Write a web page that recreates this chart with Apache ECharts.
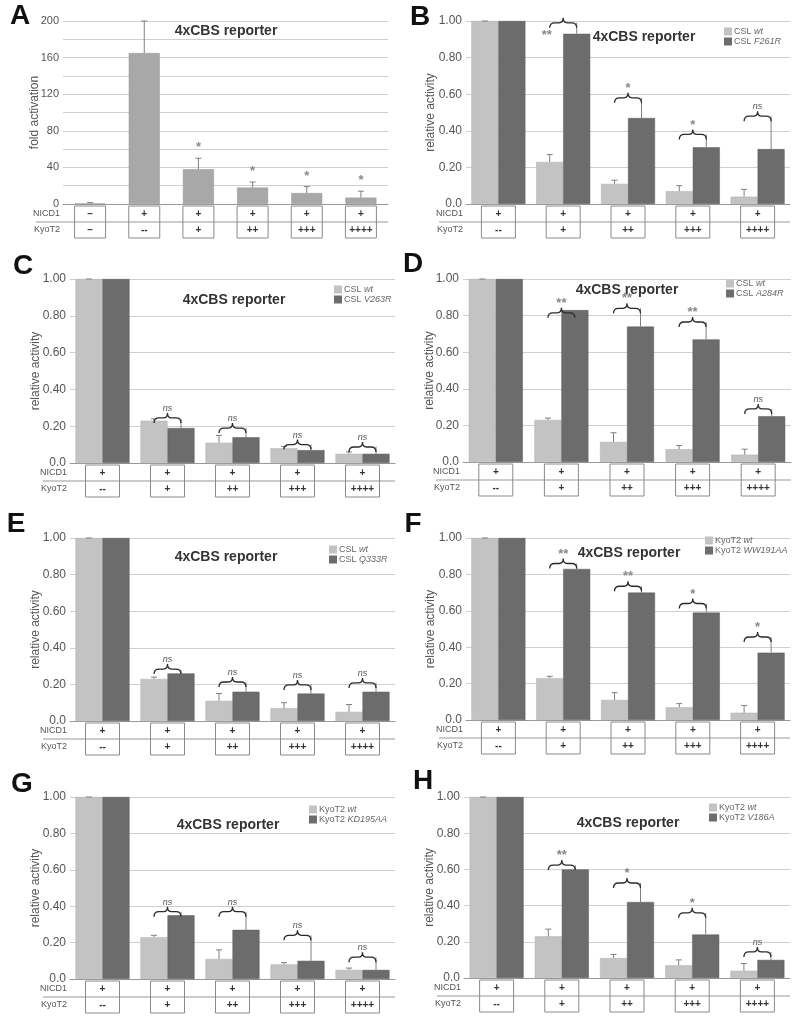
<!DOCTYPE html>
<html><head><meta charset="utf-8">
<script src="https://cdn.jsdelivr.net/npm/echarts@6/dist/echarts.min.js"></script>
<style>html,body{margin:0;padding:0;background:#fff}#c{width:800px;height:1021px}</style>
</head><body><div id="c"></div>
<script>
const FONT = "'Liberation Sans', Arial, sans-serif";

// ---- Panel A ----
const nicdA = ['–','+','+','+','+','+'];
const kyoA  = ['–','--','+','++','+++','++++'];
const valA  = [0.6,165,38,18,12,7];
const errA  = [1.5,200,50,24,19,14];
const sigA  = ['','','*','*','*','*'];

// ---- table labels for B–H ----
const nicd5 = ['+','+','+','+','+'];
const kyo5  = ['--','+','++','+++','++++'];

// ---- Panel B ----
const namesB = ['CSL wt','CSL F261R'];
const lightB = [1.00,0.23,0.11,0.07,0.04];
const lightErrB = [1.00,0.27,0.13,0.10,0.08];
const darkB = [1.00,0.93,0.47,0.31,0.30];
const darkErrB = [1.00,0.99,0.58,0.38,0.48];
const braceB = [null,0.99,0.58,0.38,0.48];
const sigB = ['','**','*','*','ns'];

// ---- Panel C ----
const namesC = ['CSL wt','CSL V263R'];
const lightC = [1.00,0.23,0.11,0.08,0.05];
const lightErrC = [1.00,0.24,0.15,0.09,0.06];
const darkC = [1.00,0.19,0.14,0.07,0.05];
const darkErrC = [1.00,0.24,0.19,0.10,0.09];
const braceC = [null,0.245,0.19,0.10,0.087];
const sigC = ['','ns','ns','ns','ns'];

// ---- Panel D ----
const namesD = ['CSL wt','CSL A284R'];
const lightD = [1.00,0.23,0.11,0.07,0.04];
const lightErrD = [1.00,0.24,0.16,0.09,0.07];
const darkD = [1.00,0.83,0.74,0.67,0.25];
const darkErrD = [1.00,0.83,0.84,0.765,0.29];
const braceD = [null,0.815,0.84,0.765,0.29];
const sigD = ['','**','**','**','ns'];

// ---- Panel E ----
const namesE = ['CSL wt','CSL Q333R'];
const lightE = [1.00,0.23,0.11,0.07,0.05];
const lightErrE = [1.00,0.24,0.15,0.10,0.09];
const darkE = [1.00,0.26,0.16,0.15,0.16];
const darkErrE = [1.00,0.28,0.21,0.20,0.21];
const braceE = [null,0.284,0.213,0.197,0.208];
const sigE = ['','ns','ns','ns','ns'];

// ---- Panel F ----
const namesF = ['KyoT2 wt','KyoT2 WW191AA'];
const lightF = [1.00,0.23,0.11,0.07,0.04];
const lightErrF = [1.00,0.24,0.15,0.09,0.08];
const darkF = [1.00,0.83,0.70,0.59,0.37];
const darkErrF = [1.00,0.86,0.735,0.64,0.456];
const braceF = [null,0.86,0.735,0.64,0.456];
const sigF = ['','**','**','*','*'];

// ---- Panel G ----
const namesG = ['KyoT2 wt','KyoT2 KD195AA'];
const lightG = [1.00,0.23,0.11,0.08,0.05];
const lightErrG = [1.00,0.24,0.16,0.09,0.06];
const darkG = [1.00,0.35,0.27,0.10,0.05];
const darkErrG = [1.00,0.37,0.37,0.24,0.12];
const braceG = [null,0.37,0.37,0.24,0.12];
const sigG = ['','ns','ns','ns','ns'];

// ---- Panel H ----
const namesH = ['KyoT2 wt','KyoT2 V186A'];
const lightH = [1.00,0.23,0.11,0.07,0.04];
const lightErrH = [1.00,0.27,0.13,0.10,0.08];
const darkH = [1.00,0.60,0.42,0.24,0.10];
const darkErrH = [1.00,0.624,0.525,0.36,0.144];
const braceH = [null,0.624,0.525,0.36,0.144];
const sigH = ['','**','*','*','ns'];

const letters = ['A','B','C','D','E','F','G','H'];

// ---------- layout (styles/positions) ----------
const LIGHT = '#c3c3c3', DARK = '#6c6c6c', MID = '#a8a8a8';
const BW = 27;
const grids = [
  {left:63, top:21, width:325, height:183},
  {left:466, top:21, width:324, height:183},
  {left:70, top:279, width:325, height:184},
  {left:463, top:279, width:328, height:183},
  {left:70, top:538, width:325, height:183},
  {left:466, top:538, width:324, height:182},
  {left:70, top:797, width:325, height:182},
  {left:464, top:797, width:326, height:181}
];
const nameGaps = [22, 29, 28, 27, 28, 29, 28, 28];
const letterPos = [[20,16],[420,17],[23,266],[413,264],[16,524],[413,524],[22,784],[423,781]];
const titlePos = [[226,31],[644,37],[234,300],[627,290],[226,557],[629,553],[228,825],[628,823]];
const legendPos = [null,[724,27],[334,285],[726,279],[329,545],[705,536],[309,805],[709,803]];

const panels = [
  null,
  {names:namesB, light:lightB, lightErr:lightErrB, dark:darkB, darkErr:darkErrB, brace:braceB, sig:sigB},
  {names:namesC, light:lightC, lightErr:lightErrC, dark:darkC, darkErr:darkErrC, brace:braceC, sig:sigC},
  {names:namesD, light:lightD, lightErr:lightErrD, dark:darkD, darkErr:darkErrD, brace:braceD, sig:sigD},
  {names:namesE, light:lightE, lightErr:lightErrE, dark:darkE, darkErr:darkErrE, brace:braceE, sig:sigE},
  {names:namesF, light:lightF, lightErr:lightErrF, dark:darkF, darkErr:darkErrF, brace:braceF, sig:sigF},
  {names:namesG, light:lightG, lightErr:lightErrG, dark:darkG, darkErr:darkErrG, brace:braceG, sig:sigG},
  {names:namesH, light:lightH, lightErr:lightErrH, dark:darkH, darkErr:darkErrH, brace:braceH, sig:sigH}
];

function errSeries(k, vals, errs, offset, withCap, sig) {
  return {
    type:'custom', xAxisIndex:k, yAxisIndex:k, z:5, silent:true,
    data: vals.map((v,i)=>[i, v, errs[i]]),
    encode:{x:0, y:[1,2]},
    renderItem:(params, api)=>{
      const i = api.value(0), v = api.value(1), e = api.value(2);
      const p0 = api.coord([i, v]), p1 = api.coord([i, e]);
      const x = p0[0] + offset;
      const ch = [];
      if (p1[1] < p0[1] - 0.5) {
        ch.push({type:'line', shape:{x1:x, y1:p0[1], x2:x, y2:p1[1]}, style:{stroke:'#808080', lineWidth:1}});
      }
      if (withCap) ch.push({type:'line', shape:{x1:x-3, y1:p1[1], x2:x+3, y2:p1[1]}, style:{stroke:'#808080', lineWidth:1}});
      if (sig && sig[params.dataIndex]) {
        ch.push({type:'text', style:{text:sig[params.dataIndex], x:x, y:p1[1]-4, align:'center', verticalAlign:'bottom', font:'bold 13px '+FONT, fill:'#888'}});
      }
      return {type:'group', children:ch};
    }
  };
}

function braceSeries(k, brace, sig, gridTop) {
  const data = [];
  brace.forEach((b,i)=>{ if (b != null) data.push([i, b]); });
  return {
    type:'custom', xAxisIndex:k, yAxisIndex:k, z:6, silent:true,
    data, encode:{x:0, y:1},
    renderItem:(params, api)=>{
      const i = api.value(0), b = api.value(1);
      const p = api.coord([i, b]);
      const y = p[1];
      const xL = p[0] - BW/2, xR = p[0] + BW/2, m = p[0];
      const d = `M${xL},${y+5} Q${xL},${y} ${xL+5},${y} L${m-4},${y} Q${m},${y} ${m},${y-5} Q${m},${y} ${m+4},${y} L${xR-5},${y} Q${xR},${y} ${xR},${y+5}`;
      const lab = sig[i];
      const ch = [{type:'path', shape:{pathData:d}, style:{stroke:'#2a2a2a', lineWidth:1.3, fill:null}}];
      const italic = lab === 'ns';
      const font = italic ? 'italic 9px '+FONT : 'bold 13px '+FONT;
      if (y - 14 < gridTop) {
        ch.push({type:'text', style:{text:lab, x:xL-3, y:y+13, align:'center', verticalAlign:'middle', font, fill:'#888'}});
      } else {
        ch.push({type:'text', style:{text:lab, x:m, y:y-(italic?5:3), align:'center', verticalAlign:'bottom', font, fill:italic?'#555':'#888'}});
      }
      return {type:'group', children:ch};
    }
  };
}

function tableSeries(k, nicd, kyo, boxW) {
  return {
    type:'custom', xAxisIndex:k, yAxisIndex:k, z:4, silent:true,
    data: nicd.map((s,i)=>[i, 0]), encode:{x:0, y:1},
    renderItem:(params, api)=>{
      const i = api.value(0);
      const p = api.coord([i, 0]);
      const top = p[1] + 2, cs = params.coordSys;
      const ch = [];
      if (params.dataIndex === 0) {
        ch.push({type:'line', shape:{x1:cs.x-27, y1:top+16, x2:cs.x+cs.width, y2:top+16}, style:{stroke:'#999', lineWidth:1}});
        ch.push({type:'text', style:{text:'NICD1', x:cs.x-3, y:top+8, align:'right', verticalAlign:'middle', font:'9px '+FONT, fill:'#555'}});
        ch.push({type:'text', style:{text:'KyoT2', x:cs.x-3, y:top+24, align:'right', verticalAlign:'middle', font:'9px '+FONT, fill:'#555'}});
      }
      ch.push({type:'rect', shape:{x:p[0]-boxW/2, y:top, width:boxW, height:32}, style:{stroke:'#8a8a8a', lineWidth:1, fill:null}});
      ch.push({type:'text', style:{text:nicd[i], x:p[0], y:top+8, align:'center', verticalAlign:'middle', font:'bold 10px '+FONT, fill:'#333'}});
      ch.push({type:'text', style:{text:kyo[i], x:p[0], y:top+24, align:'center', verticalAlign:'middle', font:'bold 10px '+FONT, fill:'#333'}});
      return {type:'group', children:ch};
    }
  };
}

const option = {
  animation:false,
  backgroundColor:'#fff',
  grid: grids.map(g=>({left:g.left, top:g.top, width:g.width, height:g.height, containLabel:false})),
  xAxis: grids.map((g,k)=>({
    type:'category', gridIndex:k,
    data: (k===0 ? nicdA : nicd5).map((s,i)=>String(i)),
    axisLine:{show:true, lineStyle:{color:'#999'}}, axisTick:{show:false}, axisLabel:{show:false}
  })),
  yAxis: grids.map((g,k)=>({
    type:'value', gridIndex:k, min:0, max:k===0?200:1, interval:k===0?20:0.2,
    name: k===0 ? 'fold activation' : 'relative activity',
    nameLocation:'middle', nameGap: nameGaps[k], nameRotate:90, nameMoveOverlap:false,
    nameTextStyle:{fontFamily:FONT, fontSize:12, color:'#555'},
    axisLine:{show:false}, axisTick:{show:false},
    splitLine:{lineStyle:{color:'#cfcfcf', width:1}},
    axisLabel:{fontFamily:FONT, fontSize:k===0?11:12, color:'#555', margin:4,
      formatter: k===0 ? (v=> (Math.round(v)%40===0 ? String(Math.round(v)) : '')) : (v=> v===0 ? '0.0' : v.toFixed(2))}
  })),
  legend: [],
  graphic: [],
  series: []
};

// Panel A series
option.series.push({type:'bar', name:'A', xAxisIndex:0, yAxisIndex:0, data:valA, barWidth:31,
  itemStyle:{color:MID, borderColor:'#999', borderWidth:0.5}, silent:true});
option.series.push(errSeries(0, valA, errA, 0, true, sigA));
option.series.push(tableSeries(0, nicdA, kyoA, 31));

for (let k=1; k<8; k++) {
  const P = panels[k];
  option.series.push({type:'bar', name:P.names[0], xAxisIndex:k, yAxisIndex:k, data:P.light, barWidth:BW, barGap:'0%',
    itemStyle:{color:LIGHT, borderColor:'#b0b0b0', borderWidth:0.5}, silent:true});
  option.series.push({type:'bar', name:P.names[1], xAxisIndex:k, yAxisIndex:k, data:P.dark, barWidth:BW, barGap:'0%',
    itemStyle:{color:DARK, borderColor:'#5a5a5a', borderWidth:0.5}, silent:true});
  option.series.push(errSeries(k, P.light, P.lightErr, -BW/2, true, null));
  option.series.push(errSeries(k, P.dark, P.darkErr, BW/2, false, null));
  option.series.push(braceSeries(k, P.brace, P.sig, grids[k].top));
  option.series.push(tableSeries(k, nicd5, kyo5, 34));
  option.legend.push({
    data:P.names.map(n=>({name:n, icon:'rect'})), left:legendPos[k][0], top:legendPos[k][1], orient:'vertical',
    itemWidth:8, itemHeight:8, itemGap:1, selectedMode:false, padding:0,
    itemStyle:{borderWidth:0},
    textStyle:{fontFamily:FONT, fontSize:9, color:'#666', padding:[0,0,0,-3],
      rich:{i:{fontFamily:FONT, fontSize:9, color:'#666', fontStyle:'italic'}}},
    formatter: n => { const j = n.lastIndexOf(' '); return n.slice(0,j) + ' {i|' + n.slice(j+1) + '}'; }
  });
}

letters.forEach((L,k)=>{
  option.graphic.push({type:'text', x:letterPos[k][0], y:letterPos[k][1],
    style:{text:L, font:'bold 28px '+FONT, fill:'#111', align:'center', verticalAlign:'middle'}});
  option.graphic.push({type:'text', x:titlePos[k][0], y:titlePos[k][1],
    style:{text:'4xCBS reporter', font:'bold 14px '+FONT, fill:'#333', align:'center', verticalAlign:'middle'}, z:10});
});

const chart = echarts.init(document.getElementById('c'), null, {renderer:'canvas'});
chart.setOption(option);
</script></body></html>
